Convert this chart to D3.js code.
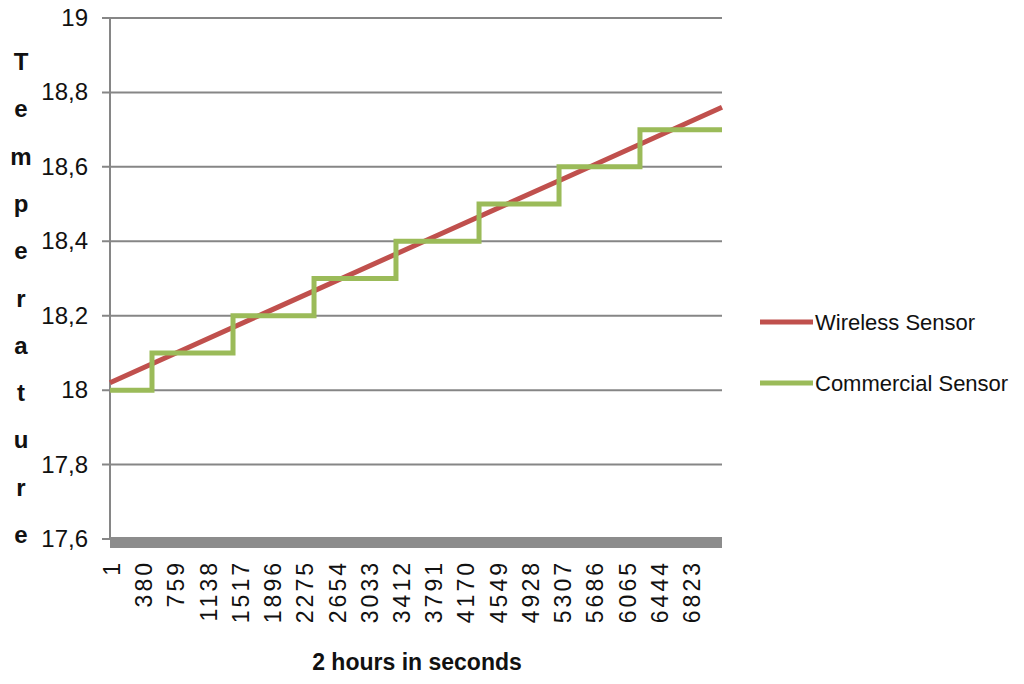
<!DOCTYPE html>
<html>
<head>
<meta charset="UTF-8">
<title>Wireless vs Commercial Sensor</title>
<script src="https://cdn.jsdelivr.net/npm/d3@7"></script>
<style>
    body, html { margin: 0; padding: 0; background: #fff; }
    text { font-family: "Liberation Sans", Arial, sans-serif; fill: #111; }
</style>
</head>
<body>
<svg id="chart" width="1024" height="684"></svg>
<script>
    // data
    var xTicks = [1, 380, 759, 1138, 1517, 1896, 2275, 2654, 3033, 3412, 3791,
                  4170, 4549, 4928, 5307, 5686, 6065, 6444, 6823];
    var yTicks = [17.6, 17.8, 18, 18.2, 18.4, 18.6, 18.8, 19];
    var yTickLabels = ["17,6", "17,8", "18", "18,2", "18,4", "18,6", "18,8", "19"];

    // wireless sensor: practically straight rise
    var wirelessTime = [1, 1800, 3600, 5400, 7200];
    var wirelessTemp = [18.02, 18.205, 18.39, 18.575, 18.76];

    // commercial sensor: 0.1 steps, time of each change
    var commercialTime = [1, 495, 1448, 2401, 3365, 4342, 5283, 6235, 7200];
    var commercialTemp = [18.0, 18.1, 18.2, 18.3, 18.4, 18.5, 18.6, 18.7, 18.7];

    var seriesNames = ["Wireless Sensor", "Commercial Sensor"];
    var seriesColors = ["#c0504d", "#9bbb59"];

    var margin = { left: 110, top: 18 };
    var width = 612, height = 521;
    var svg = d3.select("#chart");
    var g = svg.append("g").attr("transform", "translate(" + margin.left + "," + margin.top + ")");

    var x = d3.scaleLinear().domain([1, 7200]).range([0, width]);
    var y = d3.scaleLinear().domain([17.6, 19]).range([height, 0]);

    // grid lines + ticks
    g.selectAll(".grid")
        .data(yTicks)
        .enter()
        .append("line")
        .attr("class", "grid")
        .attr("x1", -8)
        .attr("x2", width)
        .attr("y1", function (d) { return y(d); })
        .attr("y2", function (d) { return y(d); })
        .attr("stroke", "#868686")
        .attr("stroke-width", 2);

    g.selectAll(".ylab")
        .data(yTicks)
        .enter()
        .append("text")
        .attr("class", "ylab")
        .text(function (d, i) { return yTickLabels[i]; })
        .attr("x", -22)
        .attr("y", function (d) { return y(d) + 8; })
        .attr("text-anchor", "end")
        .attr("font-size", "24px");

    // y axis line
    g.append("line")
        .attr("x1", 0).attr("x2", 0)
        .attr("y1", 0).attr("y2", height)
        .attr("stroke", "#868686")
        .attr("stroke-width", 2);

    // thick bottom axis band
    g.append("rect")
        .attr("x", 0)
        .attr("y", height - 2)
        .attr("width", width)
        .attr("height", 11)
        .attr("fill", "#8c8c8c");

    // x labels, rotated
    g.selectAll(".xlab")
        .data(xTicks)
        .enter()
        .append("text")
        .attr("class", "xlab")
        .text(function (d) { return d; })
        .attr("transform", function (d) { return "translate(" + (x(d) + 10) + "," + (height + 21) + ") rotate(-90)"; })
        .attr("text-anchor", "end")
        .attr("font-size", "23px")
        .attr("letter-spacing", "3px");

    // lines
    var wireless = wirelessTime.map(function (t, i) { return [t, wirelessTemp[i]]; });
    var commercial = commercialTime.map(function (t, i) { return [t, commercialTemp[i]]; });

    var line = d3.line()
        .x(function (d) { return x(d[0]); })
        .y(function (d) { return y(d[1]); });

    g.append("path")
        .datum(wireless)
        .attr("d", line)
        .attr("fill", "none")
        .attr("stroke", seriesColors[0])
        .attr("stroke-width", 5);

    g.append("path")
        .datum(commercial)
        .attr("d", line.curve(d3.curveStepAfter))
        .attr("fill", "none")
        .attr("stroke", seriesColors[1])
        .attr("stroke-width", 5);

    // axis titles
    svg.append("text")
        .text("2 hours in seconds")
        .attr("x", 417)
        .attr("y", 670)
        .attr("text-anchor", "middle")
        .attr("font-weight", "bold")
        .attr("font-size", "23px");

    var yTitle = "Temperature".split("");
    svg.selectAll(".ytitle")
        .data(yTitle)
        .enter()
        .append("text")
        .attr("class", "ytitle")
        .text(function (d) { return d; })
        .attr("x", 21)
        .attr("y", function (d, i) { return 70 + i * 47.3; })
        .attr("text-anchor", "middle")
        .attr("font-weight", "bold")
        .attr("font-size", "24px");

    // legend
    var legend = svg.selectAll(".legend")
        .data(seriesNames)
        .enter()
        .append("g")
        .attr("class", "legend")
        .attr("transform", function (d, i) { return "translate(760," + (322 + i * 61) + ")"; });

    legend.append("line")
        .attr("x1", 0).attr("x2", 53)
        .attr("stroke", function (d, i) { return seriesColors[i]; })
        .attr("stroke-width", 5);

    legend.append("text")
        .text(function (d) { return d; })
        .attr("x", 55)
        .attr("y", 8)
        .attr("font-size", "22px");
</script>
</body>
</html>
